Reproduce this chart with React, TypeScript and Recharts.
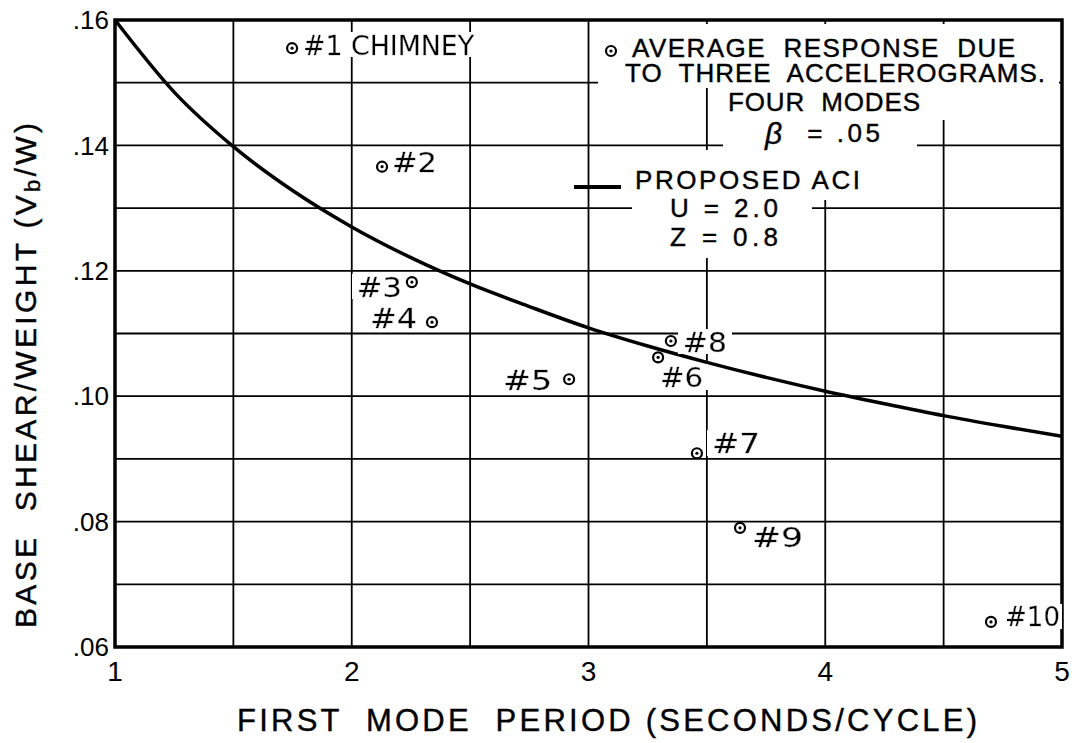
import React from "react";
import {
  ComposedChart, Line, Scatter, XAxis, YAxis, CartesianGrid, ReferenceArea,
} from "recharts";

// response points (period in s, base shear / weight)
const BUILDINGS = ["#1 CHIMNEY", "#2", "#3", "#4", "#5", "#6", "#7", "#8", "#9", "#10"];
const PERIOD = [1.748, 2.128, 2.254, 2.339, 2.918, 3.294, 3.458, 3.348, 3.64, 4.7];
const SHEAR = [0.1555, 0.1366, 0.1182, 0.1118, 0.1027, 0.1062, 0.0909, 0.1088, 0.079, 0.064];

// proposed ACI curve
const ACI_T = [1, 1.25, 1.5, 1.75, 2, 2.25, 2.5, 2.75, 3, 3.25, 3.5, 3.75, 4, 4.25, 4.5, 4.75, 5];
const ACI_V = [0.16, 0.1485, 0.1398, 0.1328, 0.127, 0.1221, 0.1179, 0.1143, 0.1109, 0.108,
  0.1054, 0.103, 0.1008, 0.0988, 0.0969, 0.0952, 0.0936];

const X_TICKS = [1, 1.5, 2, 2.5, 3, 3.5, 4, 4.5, 5];
const Y_TICKS = [0.06, 0.07, 0.08, 0.09, 0.1, 0.11, 0.12, 0.13, 0.14, 0.15, 0.16];

// label placement next to each marker (offset, anchor, drawn width)
const LABEL_POS: Record<string, { dx: number; dy: number; anchor: "start" | "end"; w: number }> = {
  "#1 CHIMNEY": { dx: 11, dy: -3, anchor: "start", w: 171 },
  "#2": { dx: 10, dy: -4, anchor: "start", w: 45 },
  "#3": { dx: -10, dy: 5, anchor: "end", w: 45 },
  "#4": { dx: -15, dy: -4, anchor: "end", w: 47 },
  "#5": { dx: -17, dy: 1, anchor: "end", w: 49 },
  "#6": { dx: 2, dy: 20, anchor: "start", w: 43 },
  "#7": { dx: 15, dy: -10, anchor: "start", w: 48 },
  "#8": { dx: 12, dy: 1, anchor: "start", w: 44 },
  "#9": { dx: 12, dy: 10, anchor: "start", w: 51 },
  "#10": { dx: 14, dy: -5, anchor: "start", w: 55 },
};

const FONT = "'Liberation Sans', Arial, sans-serif";
const LABEL_FONT = "'DejaVu Sans', sans-serif";

const points = BUILDINGS.map((label, i) => ({ x: PERIOD[i], y: SHEAR[i], label }));
const curve = ACI_T.map((t, i) => ({ x: t, y: ACI_V[i] }));

function Ring({ cx, cy }: { cx: number; cy: number }) {
  return (
    <g>
      <circle cx={cx} cy={cy} r={5} fill="#fff" stroke="#000" strokeWidth={2.2} />
      <circle cx={cx} cy={cy} r={1.6} fill="#000" />
    </g>
  );
}

function PointShape(props: any) {
  const { cx, cy, payload } = props;
  const p = LABEL_POS[payload.label];
  return (
    <g>
      <text
        x={cx + p.dx}
        y={cy + p.dy}
        textAnchor={p.anchor}
        dominantBaseline="central"
        textLength={p.w}
        lengthAdjust="spacingAndGlyphs"
        filter="url(#labelbg)"
        stroke="#000"
        strokeWidth={0.3}
        style={{ fontFamily: LABEL_FONT, fontSize: 27 }}
        fill="#000"
      >
        {payload.label}
      </text>
      <Ring cx={cx} cy={cy} />
    </g>
  );
}

const txt = { fontFamily: FONT, fontSize: 26, fill: "#000", whiteSpace: "pre" as const };

export default function App() {
  return (
    <div style={{ position: "absolute", left: 0, top: 0, width: 1074, height: 743, background: "#fff" }}>
      <ComposedChart width={1074} height={743} margin={{ top: 20, right: 12, bottom: 0, left: 0 }}>
        <CartesianGrid stroke="#000" strokeWidth={1.8} />
        <XAxis
          type="number"
          dataKey="x"
          domain={[1, 5]}
          ticks={X_TICKS}
          tickFormatter={(v) => (Number.isInteger(v) ? String(v) : "")}
          tickLine={false}
          axisLine={false}
          tickSize={0}
          tickMargin={14}
          height={96}
          tick={{ fontSize: 28, fill: "#000", fontFamily: FONT }}
          allowDataOverflow
        />
        <YAxis
          type="number"
          dataKey="y"
          domain={[0.06, 0.16]}
          ticks={Y_TICKS}
          tickFormatter={(v) => {
            const n = Math.round(v * 100);
            return n % 2 ? "" : "." + String(n).padStart(2, "0");
          }}
          tickLine={false}
          axisLine={false}
          tickSize={0}
          tickMargin={6}
          width={115}
          tick={{ fontSize: 26, fill: "#000", fontFamily: FONT }}
          allowDataOverflow
        />
        <ReferenceArea x1={1} x2={5} y1={0.06} y2={0.16} fill="none" stroke="#000" strokeWidth={3.5} ifOverflow="visible" />
        <Scatter data={points} dataKey="y" shape={PointShape} isAnimationActive={false} />
        <Line data={curve} dataKey="y" type="monotone" stroke="#000" strokeWidth={3.5} dot={false} isAnimationActive={false} />
      </ComposedChart>

      <svg width={1074} height={743} style={{ position: "absolute", left: 0, top: 0, pointerEvents: "none" }}>
        <defs>
          <filter id="labelbg" x="-0.1" y="0.1" width="1.2" height="0.78">
            <feFlood floodColor="#fff" />
            <feComposite in="SourceGraphic" operator="over" />
          </filter>
        </defs>

        {/* legend, on a white patch that breaks the grid */}
        <g fill="#fff">
          <rect x={598} y={24} width={461} height={64} />
          <rect x={715} y={88} width={344} height={32} />
          <rect x={723} y={118} width={194} height={32} />
          <rect x={625} y={150} width={245} height={50} />
          <rect x={632} y={195} width={180} height={63} />
        </g>
        <g stroke="#000" strokeWidth={0.4}>
          <text x={632} y={48} textLength={383} lengthAdjust="spacing" dominantBaseline="central" style={txt}>AVERAGE  RESPONSE  DUE</text>
          <text x={625} y={73} textLength={420} lengthAdjust="spacing" dominantBaseline="central" style={txt}>TO  THREE  ACCELEROGRAMS.</text>
          <text x={728} y={102} textLength={192} lengthAdjust="spacing" dominantBaseline="central" style={txt}>FOUR  MODES</text>
          <text x={765} y={133} textLength={115} lengthAdjust="spacing" dominantBaseline="central" style={txt}>
            <tspan fontStyle="italic" fontSize={30}>β</tspan>{"  = .05"}
          </text>
          <text x={635} y={180} textLength={225} lengthAdjust="spacing" dominantBaseline="central" style={txt}>PROPOSED ACI</text>
          <text x={670} y={208} textLength={108} lengthAdjust="spacing" dominantBaseline="central" style={txt}>U = 2.0</text>
          <text x={670} y={237} textLength={108} lengthAdjust="spacing" dominantBaseline="central" style={txt}>Z = 0.8</text>
        </g>
        <Ring cx={611} cy={51} />
        <line x1={574} x2={621} y1={187} y2={187} stroke="#000" strokeWidth={4} />

        {/* axis titles */}
        <text x={237} y={720} textLength={740} lengthAdjust="spacing" dominantBaseline="central" stroke="#000" strokeWidth={0.4} style={{ ...txt, fontSize: 31 }}>
          FIRST  MODE  PERIOD (SECONDS/CYCLE)
        </text>
        <text
          transform="translate(25,628) rotate(-90)"
          x={0}
          y={0}
          textLength={505}
          lengthAdjust="spacing"
          dominantBaseline="central"
          stroke="#000"
          strokeWidth={0.4}
          style={{ ...txt, fontSize: 30 }}
        >
          BASE  SHEAR/WEIGHT (V<tspan dy={7} fontSize={22}>b</tspan><tspan dy={-7}>/W)</tspan>
        </text>
      </svg>
    </div>
  );
}
